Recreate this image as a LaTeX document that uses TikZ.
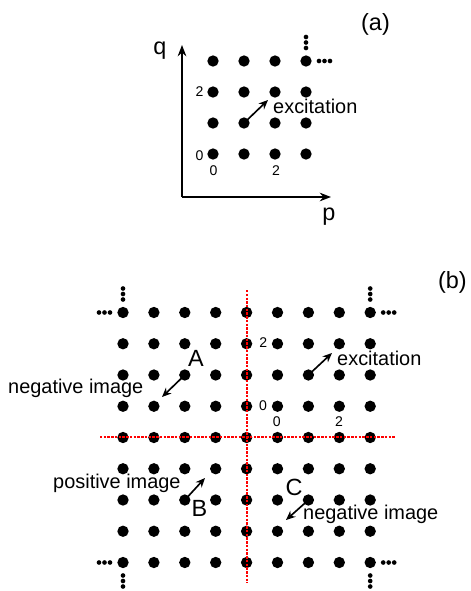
\documentclass[tikz,border=0pt]{standalone}
\usepackage{fontspec}
\setmainfont{Liberation Sans}
\usetikzlibrary{arrows.meta}

\begin{document}
\begin{tikzpicture}[
  x=0.3mm, y=-0.3mm,
  dot/.style   ={circle, fill, inner sep=0pt, minimum size=3.4mm},
  txt/.style   ={inner sep=0pt, anchor=base west, font=\fontsize{17}{20}\selectfont},
  num/.style   ={inner sep=0pt, anchor=base, font=\fontsize{12}{14}\selectfont},
  big/.style   ={inner sep=0pt, anchor=base, font=\fontsize{20}{24}\selectfont},
  rel/.style   ={-{Stealth[length=2.8mm, width=2.4mm]}, line width=1.4pt},
  ax/.style    ={-{Stealth[length=3.4mm, width=2.6mm]}, line width=1.3pt},
  guide/.style ={red, dash pattern=on 2pt off 1.2pt, line width=1.6pt}
]
\useasboundingbox (0,0) rectangle (471,591);

% (a) lattice of states
\foreach \i in {0,...,3}
  \foreach \j in {0,...,3}
    \node[dot] (a\i\j) at ({213+31*\i},{154-31*\j}) {};

\coordinate (o)    at (182,197);
\coordinate (qtip) at (182,45);
\coordinate (ptip) at (331,197);
\draw[ax] (o) -- (qtip);
\draw[ax] (o) -- (ptip);

\node[big] (q)  at (160,54)  {q};
\node[big] (p)  at (329,220) {p};
\node[big] (la) at (375.5,30) {(a)};

\node[num] (aq2) at (199.5,96.7)  {2};
\node[num] (aq0) at (199.5,160)   {0};
\node[num] (ap0) at (213.5,175.7) {0};
\node[num] (ap2) at (276,175.7)   {2};

\coordinate (exa) at (268,100);
\draw[rel] (a11.center) -- (exa);
\node[txt] (exatxt) at (273,113) {excitation};

% (b) full lattice with images
\foreach \i in {0,...,8}
  \foreach \j in {0,...,8}
    \node[dot] (b\i\j) at ({123+30.9*\i},{562.5-31.25*\j}) {};

\coordinate (vtop) at (246.6,290);
\coordinate (vbot) at (246.6,583);
\coordinate (hl)   at (100,437);
\coordinate (hr)   at (395,437);
\draw[guide] (vtop) -- (vbot);
\draw[guide] (hl) -- (hr);

% continuation dots
\foreach \d in {13,18.5,24} {
  \fill (a33) ++(0,-\d) circle[radius=0.7mm];
  \fill (a33) ++(\d,0)  circle[radius=0.7mm];
  \fill (b08) ++(0,-\d) circle[radius=0.7mm];
  \fill (b08) ++(-\d,0) circle[radius=0.7mm];
  \fill (b88) ++(0,-\d) circle[radius=0.7mm];
  \fill (b88) ++(\d,0)  circle[radius=0.7mm];
  \fill (b00) ++(-\d,0) circle[radius=0.7mm];
  \fill (b00) ++(0,\d)  circle[radius=0.7mm];
  \fill (b80) ++(\d,0)  circle[radius=0.7mm];
  \fill (b80) ++(0,\d)  circle[radius=0.7mm];
}

\node[big, anchor=base east] (lb) at (467,288) {(b)};

\node[num] (bq2) at (263.3,347.3) {2};
\node[num] (bq0) at (263,410.7)   {0};
\node[num] (bp0) at (276.7,426.7) {0};
\node[num] (bp2) at (339,426.7)   {2};

\node[big] (A) at (196,366)   {A};
\node[big] (B) at (199.5,516.7) {B};
\node[big] (C) at (294,495)   {C};

\coordinate (exb)  at (332,353);
\coordinate (negA) at (162,397);
\coordinate (posB) at (205,478);
\coordinate (negC) at (286,520);
\draw[rel] (b66.center) -- (exb);
\draw[rel] (b26.center) -- (negA);
\draw[rel] (b22.center) -- (posB);
\draw[rel] (b62.center) -- (negC);

\node[txt] (exbtxt)  at (337,365) {excitation};
\node[txt] (negAtxt) at (8,393)   {negative image};
\node[txt] (posBtxt) at (53,488)  {positive image};
\node[txt] (negCtxt) at (303,519) {negative image};
\end{tikzpicture}
\end{document}
